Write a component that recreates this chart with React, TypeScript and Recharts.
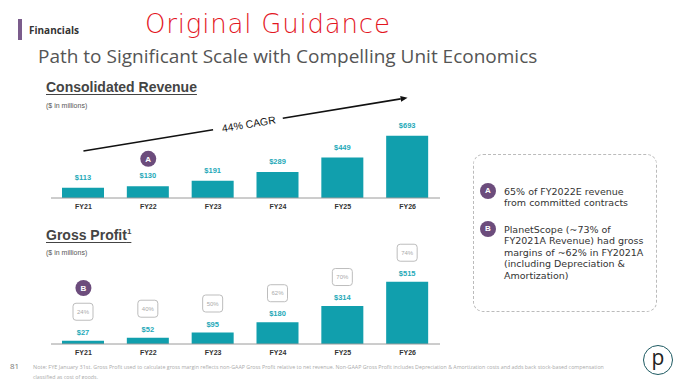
import React from 'react'
import { BarChart, Bar, XAxis, YAxis, LabelList, ReferenceLine, ReferenceDot } from 'recharts'

const years = ['FY21', 'FY22', 'FY23', 'FY24', 'FY25', 'FY26']
const revenue = [113, 130, 191, 289, 449, 693]
const grossProfit = [27, 52, 95, 180, 314, 515]
const grossMargin = [24, 40, 50, 62, 70, 74]

const revenueData = years.map((year, i) => ({ year, value: revenue[i] }))
const grossData = years.map((year, i) => ({ year, value: grossProfit[i], margin: grossMargin[i] }))

const TEAL = '#119fad'
const LABEL_TEAL = '#25a9b8'
const PURPLE = '#6c4c7c'
const SANS = '"Open Sans", "Noto Sans", sans-serif'
const ARIAL = '"Liberation Sans", Arial, sans-serif'

const tickStyle = { fontSize: 7, fontWeight: 700, fill: '#333', fontFamily: ARIAL }
const valueStyle = { fontSize: 7.5, fontWeight: 700, fontFamily: ARIAL }

// trend arrow with a gap for its label
function CagrArrow(props: any) {
  const { x1, y1, x2, y2 } = props
  const dx = x2 - x1
  const dy = y2 - y1
  const len = Math.sqrt(dx * dx + dy * dy)
  const ux = dx / len
  const uy = dy / len
  const gapA = 0.4
  const gapB = 0.615
  const mx = x1 + dx * 0.51
  const my = y1 + dy * 0.51
  const angle = (Math.atan2(dy, dx) * 180) / Math.PI
  const head = 7
  const bx = x2 - ux * head
  const by = y2 - uy * head
  return (
    <g>
      <line x1={x1} y1={y1} x2={x1 + dx * gapA} y2={y1 + dy * gapA} stroke="#111" strokeWidth={1.6} />
      <line x1={x1 + dx * gapB} y1={y1 + dy * gapB} x2={bx} y2={by} stroke="#111" strokeWidth={1.6} />
      <polygon
        points={`${x2},${y2} ${bx - uy * 3},${by + ux * 3} ${bx + uy * 3},${by - ux * 3}`}
        fill="#111"
      />
      <text
        x={mx}
        y={my}
        transform={`rotate(${angle} ${mx} ${my})`}
        textAnchor="middle"
        dominantBaseline="central"
        fontSize={10.5}
        fontFamily={ARIAL}
        fill="#111"
      >
        44% CAGR
      </text>
    </g>
  )
}

function MarginBox(props: any) {
  const vb = props.viewBox || props
  const cx = vb.x + vb.width / 2
  const cy = vb.y - 29
  return (
    <g>
      <rect x={cx - 10} y={cy - 8.5} width={20} height={17} rx={3} fill="#fff" stroke="#bdbdbd" strokeWidth={1} />
      <text x={cx} y={cy} textAnchor="middle" dominantBaseline="central" fontSize={6} fontFamily={ARIAL} fill="#aaa">
        {props.value}%
      </text>
    </g>
  )
}

const badgeLabel = (letter: string) => ({
  value: letter,
  position: 'center' as const,
  fill: '#fff',
  fontSize: 8,
  fontWeight: 700,
  fontFamily: ARIAL,
})

function Badge({ letter, x, y }: { letter: string; x: number; y: number }) {
  return (
    <div
      style={{
        position: 'absolute',
        left: x - 8,
        top: y - 8,
        width: 16,
        height: 16,
        borderRadius: 8,
        background: PURPLE,
        color: '#fff',
        fontFamily: ARIAL,
        fontWeight: 700,
        fontSize: 8,
        lineHeight: '16px',
        textAlign: 'center',
      }}
    >
      {letter}
    </div>
  )
}

const sectionTitle: React.CSSProperties = {
  position: 'absolute',
  left: 46,
  fontFamily: ARIAL,
  fontWeight: 700,
  fontSize: 14,
  color: '#444',
  textDecoration: 'underline',
  textUnderlineOffset: 2,
  whiteSpace: 'nowrap',
}

const unitsStyle: React.CSSProperties = {
  position: 'absolute',
  left: 46,
  fontFamily: ARIAL,
  fontSize: 7,
  color: '#555',
}

const noteText: React.CSSProperties = {
  fontFamily: SANS,
  color: '#aaa',
}

const boxLine: React.CSSProperties = {
  position: 'absolute',
  left: 504,
  fontFamily: '"DejaVu Sans", sans-serif',
  fontSize: 9.5,
  lineHeight: '11px',
  color: '#333',
  whiteSpace: 'nowrap',
}

const noteA = ['65% of FY2022E revenue', 'from committed contracts']
const noteB = [
  'PlanetScope (~73% of',
  'FY2021A Revenue) had gross',
  'margins of ~62% in FY2021A',
  '(including Depreciation &',
  'Amortization)',
]

export default function App() {
  return (
    <div style={{ position: 'absolute', left: 0, top: 0, width: 679, height: 379, background: '#fff', overflow: 'hidden' }}>
      {/* header */}
      <div style={{ position: 'absolute', left: 18, top: 19, width: 4, height: 21, background: '#7b5c8c' }} />
      <div style={{ position: 'absolute', left: 29, top: 23, fontFamily: SANS, fontWeight: 700, fontSize: 10, color: '#333' }}>
        Financials
      </div>
      <div
        style={{
          position: 'absolute',
          left: 145,
          top: 9,
          fontFamily: '"DejaVu Sans", sans-serif',
          fontWeight: 200,
          fontSize: 26,
          color: '#e3161f',
          letterSpacing: 0.8,
          whiteSpace: 'nowrap',
        }}
      >
        Original Guidance
      </div>
      <div
        style={{
          position: 'absolute',
          left: 38,
          top: 43,
          fontFamily: SANS,
          fontSize: 19,
          color: '#555',
          whiteSpace: 'nowrap',
        }}
      >
        Path to Significant Scale with Compelling Unit Economics
      </div>

      {/* revenue */}
      <div style={{ ...sectionTitle, top: 79 }}>Consolidated Revenue</div>
      <div style={{ ...unitsStyle, top: 102 }}>($ in millions)</div>
      <div style={{ position: 'absolute', left: 0, top: 80 }}>
        <BarChart width={460} height={140} data={revenueData} margin={{ top: 10, right: 20, bottom: 0, left: 51 }}>
          <XAxis
            dataKey="year"
            height={22}
            tickLine={false}
            axisLine={{ stroke: '#9a9a9a' }}
            tickSize={0}
            tickMargin={6}
            tick={tickStyle}
          />
          <YAxis hide domain={[0, 1200]} />
          <Bar dataKey="value" fill={TEAL} barSize={42} isAnimationActive={false}>
            <LabelList
              dataKey="value"
              position="top"
              offset={8}
              formatter={(v: any) => `$${v}`}
              style={valueStyle}
              fill={LABEL_TEAL}
            />
          </Bar>
          <ReferenceLine
            segment={[
              { x: 'FY21', y: 522 },
              { x: 'FY26', y: 1114 },
            ]}
            shape={CagrArrow}
          />
          <ReferenceDot x="FY22" y={435} r={8} fill={PURPLE} stroke="none" label={badgeLabel('A')} />
        </BarChart>
      </div>

      {/* gross profit */}
      <div style={{ ...sectionTitle, top: 227 }}>
        Gross Profit<sup style={{ fontSize: 8 }}>1</sup>
      </div>
      <div style={{ ...unitsStyle, top: 249 }}>($ in millions)</div>
      <div style={{ position: 'absolute', left: 0, top: 235 }}>
        <BarChart width={460} height={130} data={grossData} margin={{ top: 5, right: 20, bottom: 0, left: 51 }}>
          <XAxis
            dataKey="year"
            height={21}
            tickLine={false}
            axisLine={{ stroke: '#9a9a9a' }}
            tickSize={0}
            tickMargin={6}
            tick={tickStyle}
          />
          <YAxis hide domain={[0, 860]} />
          <Bar dataKey="value" fill={TEAL} barSize={42} isAnimationActive={false}>
            <LabelList
              dataKey="value"
              position="top"
              offset={6}
              formatter={(v: any) => `$${v}`}
              style={valueStyle}
              fill={LABEL_TEAL}
            />
            <LabelList dataKey="margin" content={MarginBox} />
          </Bar>
          <ReferenceDot x="FY21" y={463} r={8} fill={PURPLE} stroke="none" label={badgeLabel('B')} />
        </BarChart>
      </div>

      {/* notes box */}
      <div
        style={{
          position: 'absolute',
          left: 473,
          top: 154,
          width: 184,
          height: 158,
          border: '1px dashed #bbb',
          borderRadius: 10,
          boxSizing: 'border-box',
        }}
      />
      <Badge letter="A" x={488} y={191} />
      {noteA.map((t, i) => (
        <div key={t} style={{ ...boxLine, top: 185.5 + i * 11.5 }}>
          {t}
        </div>
      ))}
      <Badge letter="B" x={488} y={229} />
      {noteB.map((t, i) => (
        <div key={t} style={{ ...boxLine, top: 223.5 + i * 11.6 }}>
          {t}
        </div>
      ))}

      {/* footer */}
      <div style={{ position: 'absolute', left: 10, top: 360, fontFamily: SANS, fontSize: 8, color: '#777' }}>81</div>
      <div style={{ position: 'absolute', left: 33, top: 361, width: 580, lineHeight: '6.5px', whiteSpace: 'nowrap' }}>
        <span style={{ ...noteText, fontSize: 5.5 }}>Note: FYE January 31st. </span>
        <span style={{ ...noteText, fontSize: 5.3 }}>
          Gross Profit used to calculate gross margin reflects non-GAAP Gross Profit relative to net revenue. Non-GAAP Gross
          Profit includes Depreciation &amp; Amortization costs and adds back stock-based compensation
        </span>
        <br />
        <span style={{ ...noteText, fontSize: 5.3 }}>classified as cost of goods.</span>
      </div>
      <div
        style={{
          position: 'absolute',
          left: 643,
          top: 345,
          width: 30,
          height: 30,
          borderRadius: 15,
          border: '1.6px solid #1e5a62',
          boxSizing: 'border-box',
          textAlign: 'center',
          fontFamily: SANS,
          fontSize: 21,
          lineHeight: '23px',
          color: '#222',
        }}
      >
        p
      </div>
    </div>
  )
}
